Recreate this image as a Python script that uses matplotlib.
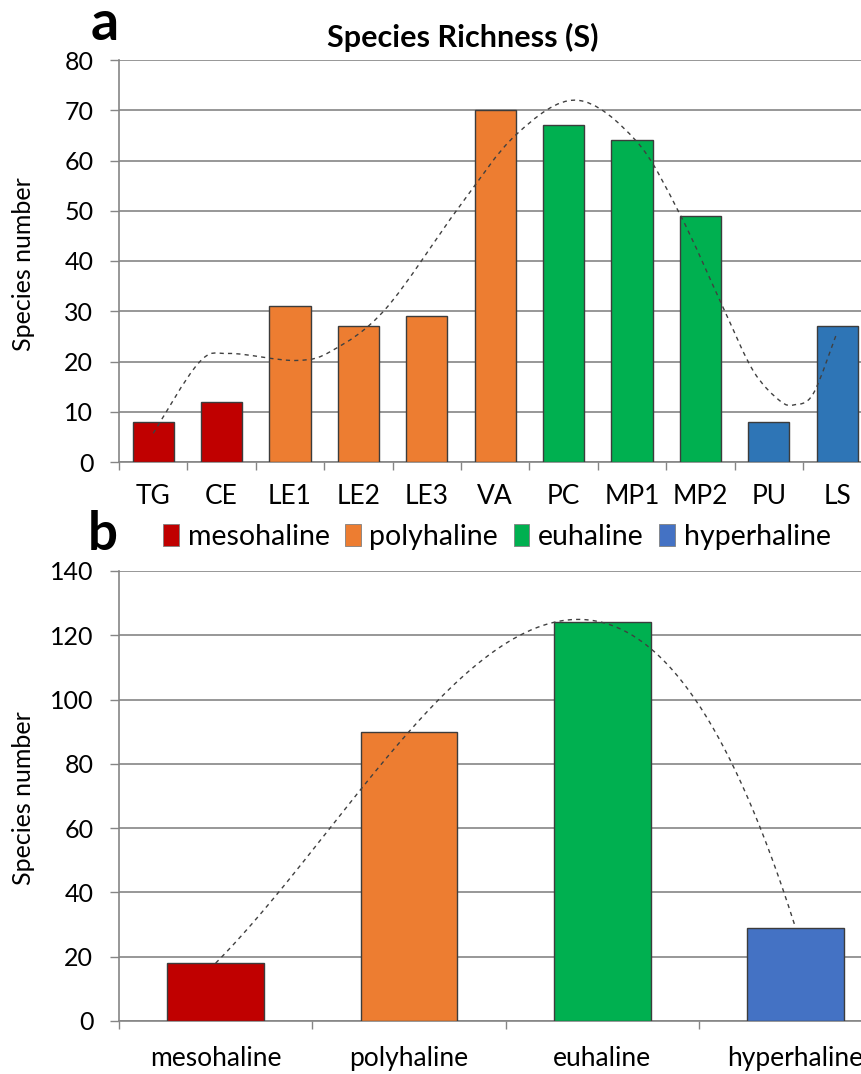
import numpy as np
import matplotlib
matplotlib.use('Agg')
matplotlib.rcParams['font.family'] = ['Lato', 'DejaVu Sans']
import matplotlib.pyplot as plt
from matplotlib.patches import Patch, PathPatch
from matplotlib.path import Path

# panel a: sites
sites = ['TG', 'CE', 'LE1', 'LE2', 'LE3', 'VA', 'PC', 'MP1', 'MP2', 'PU', 'LS']
richness = [8, 12, 31, 27, 29, 70, 67, 64, 49, 8, 27]
site_zone = ['meso', 'meso', 'poly', 'poly', 'poly', 'poly', 'eu', 'eu', 'eu', 'hyper', 'hyper']

# dashed trend curve of panel a, knots (site index, value)
trend_x = [0.0, 0.67, 1.11, 2.08, 2.62, 3.4, 4.47, 5.31, 6.19, 7.06, 7.7, 8.33, 8.77, 9.16, 9.38, 9.65, 9.99]
trend_y = [5.7, 19.8, 21.6, 20.2, 22.2, 30.5, 50.7, 65.2, 72.0, 63.9, 49.3, 30.8, 18.2, 12.2, 11.4, 13.6, 25.5]

# panel b: salinity zones
zones = ['mesohaline', 'polyhaline', 'euhaline', 'hyperhaline']
zone_richness = [18, 90, 124, 29]

col_a = {'meso': '#C00000', 'poly': '#ED7D31', 'eu': '#00B050', 'hyper': '#2E75B6'}
col_b = ['#C00000', '#ED7D31', '#00B050', '#4472C4']

W, H = 862, 1074
fig = plt.figure(figsize=(W / 100, H / 100), dpi=100)

def px_axes(l, t, r, b):
    return fig.add_axes([l / W, 1 - b / H, (r - l) / W, (b - t) / H])

grid_col = '#858585'
edge = '#3c3c3c'

def style(ax, n, ymax, ystep):
    ax.set_xlim(-0.5, n - 0.5)
    ax.set_ylim(0, ymax)
    ax.set_yticks(np.arange(0, ymax + 1, ystep))
    ax.set_xticks(np.arange(-0.5, n, 1.0), minor=True)
    ax.tick_params(axis='x', which='major', length=0, pad=16, labelsize=19)
    ax.tick_params(axis='x', which='minor', length=6, width=1, color=grid_col, direction='out')
    ax.tick_params(axis='y', length=6.5, width=1, color=grid_col, pad=12, labelsize=18)
    for s in ['top', 'right']:
        ax.spines[s].set_visible(False)
    for s in ['left', 'bottom']:
        ax.spines[s].set_color(grid_col)
        ax.spines[s].set_linewidth(1.2)
    ax.yaxis.grid(True, color=grid_col, linewidth=1.2)
    ax.set_axisbelow(True)

def smooth_path(xs, ys):
    # Catmull-Rom knots turned into cubic Bezier segments
    p = np.column_stack([xs, ys])
    verts = [p[0]]
    codes = [Path.MOVETO]
    for i in range(len(p) - 1):
        p0 = p[i - 1] if i > 0 else p[i]
        p3 = p[i + 2] if i + 2 < len(p) else p[i + 1]
        verts += [p[i] + (p[i + 1] - p0) / 6, p[i + 1] - (p3 - p[i]) / 6, p[i + 1]]
        codes += [Path.CURVE4] * 3
    return Path(verts, codes)

# ---- panel a
ax1 = px_axes(119, 60, 119 + 11 * 68.4, 462)
x1 = np.arange(len(sites))
ax1.bar(x1, richness, width=0.6, color=[col_a[z] for z in site_zone],
        edgecolor=edge, linewidth=1, zorder=3)
style(ax1, len(sites), 80, 10)
ax1.set_xticks(x1)
ax1.set_xticklabels(sites)
ax1.add_patch(PathPatch(smooth_path(trend_x, trend_y), fill=False, edgecolor='#404040',
                        lw=1, linestyle=(0, (3, 3)), zorder=4))

# ---- panel b
ax2 = px_axes(119, 571, 119 + 4 * 193.3, 1021)
x2 = np.arange(len(zones))
ax2.bar(x2, zone_richness, width=0.5, color=col_b, edgecolor=edge, linewidth=1, zorder=3)
style(ax2, len(zones), 140, 20)
ax2.set_xticks(x2)
ax2.set_xticklabels(zones)
ax2.tick_params(axis='x', which='major', pad=18)
# polynomial trend line (order 3)
c2 = np.polyfit(x2, zone_richness, 3)
xs2 = np.linspace(0, len(zones) - 1, 400)
ax2.plot(xs2, np.polyval(c2, xs2), color='#404040', lw=1, dashes=(3, 3), zorder=4)

# labels and title
fig.text(24 / W, 1 - 264 / H, 'Species number', rotation=90, ha='center', va='center', fontsize=18)
fig.text(24 / W, 1 - 798 / H, 'Species number', rotation=90, ha='center', va='center', fontsize=18)
fig.text(463 / W, 1 - 47 / H, 'Species Richness (S)', ha='center', va='baseline',
         fontsize=22, fontweight='bold')
fig.text(91 / W, 1 - 40 / H, 'a', ha='left', va='baseline', fontsize=40, fontweight='bold')
fig.text(88 / W, 1 - 550 / H, 'b', ha='left', va='baseline', fontsize=38, fontweight='bold')

handles = [Patch(facecolor=c, edgecolor='#808080', linewidth=0.6) for c in col_b]
fig.legend(handles, zones, loc='center', bbox_to_anchor=(497 / W, 1 - 537 / H), ncol=4,
           frameon=False, fontsize=20.5, handlelength=0.55, handleheight=0.8,
           handletextpad=0.3, columnspacing=0.55, borderpad=0)

fig.savefig('out.png', dpi=100)
